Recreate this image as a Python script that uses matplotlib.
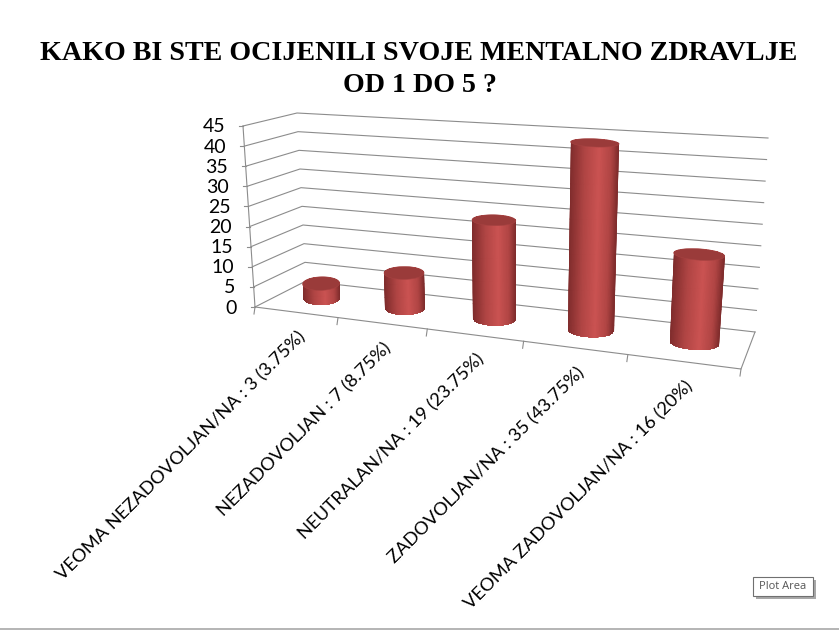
import numpy as np
import matplotlib
matplotlib.use("Agg")
import matplotlib.pyplot as plt
from matplotlib.colors import LinearSegmentedColormap
from matplotlib.patches import Polygon, Rectangle

labels = [
    "VEOMA NEZADOVOLJAN/NA : 3 (3.75%)",
    "NEZADOVOLJAN : 7 (8.75%)",
    "NEUTRALAN/NA : 19 (23.75%)",
    "ZADOVOLJAN/NA : 35 (43.75%)",
    "VEOMA ZADOVOLJAN/NA : 16 (20%)",
]
# the bars are drawn at the percentage, not the count
values = [3.75, 8.75, 23.75, 43.75, 20]
y_ticks = list(range(0, 50, 5))
y_max = 45

# corners of the 3d box in pixels: front left, front right, back right, back left
floor_quad = [(255, 307), (741, 369), (755, 332), (306, 281)]
top_quad = [(243, 126), (757, 157), (768, 138), (297, 113)]
GRID = "#8c8c8c"


def homography(quad):
    A, b = [], []
    for (u, v), (x, y) in zip([(0, 0), (1, 0), (1, 1), (0, 1)], quad):
        A.append([u, v, 1, 0, 0, 0, -u * x, -v * x])
        A.append([0, 0, 0, u, v, 1, -u * y, -v * y])
        b += [x, y]
    return np.append(np.linalg.solve(np.array(A, float), np.array(b, float)), 1).reshape(3, 3)


H_floor = homography(floor_quad)
H_top = homography(top_quad)


def apply_h(H, u, v):
    p = H @ np.array([u, v, np.ones_like(u)])
    return p[:2] / p[2]


def project(u, v, z):
    u, v = np.asarray(u, float), np.asarray(v, float)
    low = apply_h(H_floor, u, v)
    high = apply_h(H_top, u, v)
    return (low + (high - low) * (z / y_max)).T


def ellipse(cu, z):
    # circle seen from above: flatter the higher it sits, tilted a bit towards the right
    left, right = project([cu - r_u, cu + r_u], [0.5, 0.5], z)
    centre = project([cu], [0.5], z)[0]
    a = (right[0] - left[0]) / 2
    b = 7 - 3 * z / y_max
    tilt = np.radians(7 * (cu - 0.35))
    t = np.linspace(0, 2 * np.pi, 121)
    ex, ey = a * np.cos(t), b * np.sin(t)
    return np.column_stack([centre[0] + ex * np.cos(tilt) - ey * np.sin(tilt),
                            centre[1] + ex * np.sin(tilt) + ey * np.cos(tilt)])


def hull(points):
    pts = sorted(map(tuple, points))
    def half(seq):
        out = []
        for p in seq:
            while len(out) > 1 and ((out[-1][0] - out[-2][0]) * (p[1] - out[-2][1])
                                    - (out[-1][1] - out[-2][1]) * (p[0] - out[-2][0])) <= 0:
                out.pop()
            out.append(p)
        return out[:-1]
    return np.array(half(pts) + half(pts[::-1]))


fig = plt.figure(figsize=(8.39, 6.3), dpi=100)
ax = fig.add_axes([0, 0, 1, 1])
ax.set_xlim(0, 839)
ax.set_ylim(630, 0)
ax.axis("off")

# walls
for t in y_ticks:
    pts = project([0, 0, 1], [0, 1, 1], t)
    ax.plot(pts[:, 0], pts[:, 1], color=GRID, lw=0.8, zorder=1)
    ax.plot([pts[0, 0] - 4, pts[0, 0]], [pts[0, 1], pts[0, 1]], color=GRID, lw=0.8, zorder=1)
    ax.text(pts[0, 0] - 18, pts[0, 1] + 1, str(t), ha="right", va="center",
            fontsize=14, family="Lato", color="black")

# axis and floor edges
edge = project([0, 0], [0, 0], np.array([0, y_max]))
ax.plot(edge[:, 0], edge[:, 1], color=GRID, lw=0.8, zorder=1)
front = project([0, 1, 1], [0, 0, 1], 0)
ax.plot(front[:, 0], front[:, 1], color=GRID, lw=0.8, zorder=1)

n = len(values)
for i in range(n + 1):
    p = project([i / n], [0], 0)[0]
    ax.plot([p[0], p[0] - 1], [p[1], p[1] + 7], color=GRID, lw=0.8, zorder=1)

# cylinders
shade = LinearSegmentedColormap.from_list(
    "shade", [(0, "#7f2c2c"), (0.3, "#b04544"), (0.6, "#cb5352"), (0.85, "#b04544"), (1, "#7f2c2c")])
r_u = 0.046
for i, val in enumerate(values):
    cu = (i + 0.5) / n + 0.002
    base = ellipse(cu, 0)
    lid = ellipse(cu, val)
    outline = hull(np.vstack([base, lid]))

    # gradient runs across the cylinder, following its slight lean
    y0, y1 = base[:, 1].mean(), lid[:, 1].mean()
    margin = 30 / abs(y0 - y1)
    rows = np.linspace(-margin, 1 + margin, 8)
    cols = np.linspace(-0.02, 1.02, 40)
    xl = base[:, 0].min() + (lid[:, 0].min() - base[:, 0].min()) * rows
    xr = base[:, 0].max() + (lid[:, 0].max() - base[:, 0].max()) * rows
    X = xl[:, None] + (xr - xl)[:, None] * cols[None, :]
    Y = (y0 + (y1 - y0) * rows)[:, None] * np.ones_like(cols)[None, :]
    C = np.ones_like(rows)[:, None] * cols[None, :]
    mesh = ax.pcolormesh(X, Y, C, cmap=shade, vmin=0, vmax=1, shading="gouraud", zorder=3)
    mesh.set_clip_path(Polygon(outline, closed=True, transform=ax.transData))
    ax.add_patch(Polygon(lid, closed=True, facecolor="#9a3b3a", edgecolor="#a64241", lw=0.4, zorder=4))

    # rotated label ends under the middle of its category
    anchor = project([(i + 0.5) / n], [0], 0)[0]
    ax.text(anchor[0] + 7, anchor[1] + 22, labels[i], rotation=45, rotation_mode="anchor",
            ha="right", va="center", fontsize=13.2, family="Lato", color="black")

# title
ax.text(419, 53, "KAKO BI STE OCIJENILI SVOJE MENTALNO ZDRAVLJE", ha="center", va="center",
        fontsize=20.2, fontweight="bold", family="Liberation Serif", color="black")
ax.text(420, 86, "OD 1 DO 5 ?", ha="center", va="center",
        fontsize=20.2, fontweight="bold", family="Liberation Serif", color="black")

# tooltip and bottom line
ax.add_patch(Rectangle((756, 580), 60, 19, facecolor="#a8a8a8", edgecolor="none", zorder=5))
ax.add_patch(Rectangle((753, 577), 60, 19, facecolor="white", edgecolor="#707070", lw=0.8, zorder=6))
ax.text(783, 586.5, "Plot Area", ha="center", va="center", fontsize=8, family="Open Sans",
        color="#555555", zorder=7)
ax.plot([0, 839], [628.5, 628.5], color="#a8a8a8", lw=1.2)

ax.set_xlim(0, 839)
ax.set_ylim(630, 0)
fig.savefig("out.png", dpi=100)
